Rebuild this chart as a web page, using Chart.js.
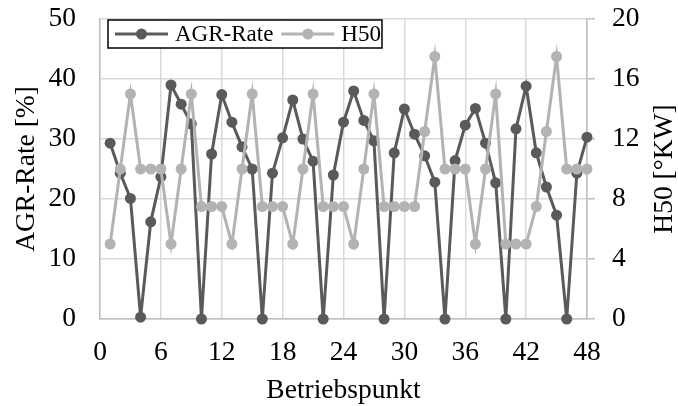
<!DOCTYPE html>
<html>
<head>
<meta charset="utf-8">
<script src="https://cdn.jsdelivr.net/npm/chart.js@4"></script>
<style>
  html, body { margin: 0; padding: 0; background: #fff; }
</style>
</head>
<body>
<canvas id="myChart" width="678" height="406"></canvas>
<script>
// Daten
const betriebspunkt = [1, 2, 3, 4, 5, 6, 7, 8, 9, 10, 11, 12, 13, 14, 15, 16, 17, 18, 19, 20, 21, 22, 23, 24,
                       25, 26, 27, 28, 29, 30, 31, 32, 33, 34, 35, 36, 37, 38, 39, 40, 41, 42, 43, 44, 45, 46, 47, 48];
const agrRate = [29.3, 24.3, 20.1, 0.3, 16.2, 23.7, 39.0, 35.8, 32.5, 0, 27.5, 37.4,
                 32.8, 28.7, 25.0, 0, 24.3, 30.2, 36.5, 30.0, 26.3, 0, 24.0, 32.8,
                 38.0, 33.1, 29.7, 0, 27.7, 35.0, 30.8, 27.2, 22.8, 0, 26.4, 32.3,
                 35.1, 29.3, 22.7, 0, 31.7, 38.8, 27.7, 22.0, 17.3, 0, 24.3, 30.3];
const h50 = [5, 10, 15, 10, 10, 10, 5, 10, 15, 7.5, 7.5, 7.5,
             5, 10, 15, 7.5, 7.5, 7.5, 5, 10, 15, 7.5, 7.5, 7.5,
             5, 10, 15, 7.5, 7.5, 7.5, 7.5, 12.5, 17.5, 10, 10, 10,
             5, 10, 15, 5, 5, 5, 7.5, 12.5, 17.5, 10, 10, 10];
const xTicks = [0, 6, 12, 18, 24, 30, 36, 42, 48];
const agrTicks = [0, 10, 20, 30, 40, 50];
const h50Ticks = [0, 4, 8, 12, 16, 20];

const FONT = '"Liberation Serif", "Times New Roman", serif';
const FS = 27.5;
const DARK = '#5a5a5a';
const LIGHT = '#b3b3b3';

// Legende mit Rahmen im Diagrammbereich
const boxLegend = {
  id: 'boxLegend',
  afterDatasetsDraw(chart) {
    const ctx = chart.ctx, a = chart.chartArea;
    const x0 = a.left + 8, y0 = a.top + 1, h = 28;
    const lineLen = 53;
    ctx.save();
    ctx.font = '23px ' + FONT;
    const items = chart.data.datasets.map(ds => ({ ds, w: ctx.measureText(ds.label).width }));
    let width = 7 + 1;
    items.forEach((it, i) => { width += lineLen + 7 + it.w + (i < items.length - 1 ? 8 : 0); });
    ctx.fillStyle = '#fff';
    ctx.fillRect(x0, y0, width, h);
    ctx.strokeStyle = '#000';
    ctx.lineWidth = 1.5;
    ctx.strokeRect(x0, y0, width, h);
    let x = x0 + 7;
    const cy = y0 + h / 2;
    items.forEach(it => {
      ctx.strokeStyle = it.ds.borderColor;
      ctx.lineWidth = it.ds.borderWidth;
      ctx.beginPath();
      ctx.moveTo(x, cy);
      ctx.lineTo(x + lineLen, cy);
      ctx.stroke();
      ctx.fillStyle = it.ds.pointBackgroundColor;
      ctx.beginPath();
      ctx.arc(x + lineLen / 2, cy, it.ds.pointRadius, 0, Math.PI * 2);
      ctx.fill();
      x += lineLen + 7;
      ctx.fillStyle = '#000';
      ctx.textBaseline = 'middle';
      ctx.fillText(it.ds.label, x, cy + 1);
      x += it.w + 8;
    });
    ctx.restore();
  }
};

// rechter Achsentitel, von unten nach oben gelesen
const rightTitle = {
  id: 'rightTitle',
  afterDraw(chart) {
    const ctx = chart.ctx, a = chart.chartArea;
    ctx.save();
    ctx.translate(chart.width - 13, (a.top + a.bottom) / 2);
    ctx.rotate(-Math.PI / 2);
    ctx.font = FS + 'px ' + FONT;
    ctx.fillStyle = '#000';
    ctx.textAlign = 'center';
    ctx.textBaseline = 'middle';
    ctx.fillText('H50 [°KW]', 0, 0);
    ctx.restore();
  }
};

// Beschriftungsüberstand nicht in den Diagrammrand einrechnen
const noLabelPad = s => { s.paddingTop = 0; s.paddingBottom = 0; };

const ctx = document.getElementById('myChart').getContext('2d');
new Chart(ctx, {
  type: 'line',
  data: {
    datasets: [
      {
        label: 'AGR-Rate',
        data: betriebspunkt.map((b, i) => ({ x: b, y: agrRate[i] })),
        yAxisID: 'y',
        borderColor: DARK,
        backgroundColor: DARK,
        pointBackgroundColor: DARK,
        pointBorderWidth: 0,
        pointRadius: 5.5,
        borderWidth: 3,
        order: 2,
        clip: false
      },
      {
        label: 'H50',
        data: betriebspunkt.map((b, i) => ({ x: b, y: h50[i] })),
        yAxisID: 'y1',
        borderColor: LIGHT,
        backgroundColor: LIGHT,
        pointBackgroundColor: LIGHT,
        pointBorderWidth: 0,
        pointRadius: 5.5,
        borderWidth: 3,
        order: 1,
        clip: false
      }
    ]
  },
  options: {
    responsive: false,
    animation: false,
    layout: { padding: { top: 19, left: 0, right: 0, bottom: 0 } },
    plugins: { legend: { display: false }, tooltip: { enabled: false } },
    scales: {
      x: {
        type: 'linear', min: 0, max: 48,
        afterBuildTicks: s => { s.ticks = xTicks.map(v => ({ value: v })); },
        afterFit: s => { s.height = 87; },
        grid: { color: '#d9d9d9', lineWidth: 1.5, drawTicks: false },
        border: { color: '#bfbfbf', width: 1.5 },
        ticks: { color: '#000', font: { family: FONT, size: FS }, padding: 17, maxRotation: 0 },
        title: { display: true, text: 'Betriebspunkt', color: '#000',
                 font: { family: FONT, size: FS, lineHeight: 1 }, padding: { top: 0, bottom: 1.5 } }
      },
      y: {
        position: 'left', min: 0, max: 50,
        afterBuildTicks: s => { s.ticks = agrTicks.map(v => ({ value: v })); },
        afterFit: s => { s.width = 100; noLabelPad(s); },
        grid: { color: '#d9d9d9', lineWidth: 1.5, drawTicks: false },
        border: { color: '#bfbfbf', width: 1.5 },
        ticks: { color: '#000', font: { family: FONT, size: FS }, padding: 24 },
        title: { display: true, text: 'AGR-Rate [%]', color: '#000',
                 font: { family: FONT, size: FS, lineHeight: 1 }, padding: { top: 13.5, bottom: 0 } }
      },
      y1: {
        position: 'right', min: 0, max: 20,
        afterBuildTicks: s => { s.ticks = h50Ticks.map(v => ({ value: v })); },
        afterFit: s => { s.width = 91; noLabelPad(s); },
        grid: { drawOnChartArea: false, color: '#bfbfbf', lineWidth: 1.5, drawTicks: true, tickLength: 8 },
        border: { color: '#bfbfbf', width: 1.5 },
        ticks: { color: '#000', font: { family: FONT, size: FS }, padding: 17 },
        title: { display: false }
      }
    }
  },
  plugins: [boxLegend, rightTitle]
});
</script>
</body>
</html>
